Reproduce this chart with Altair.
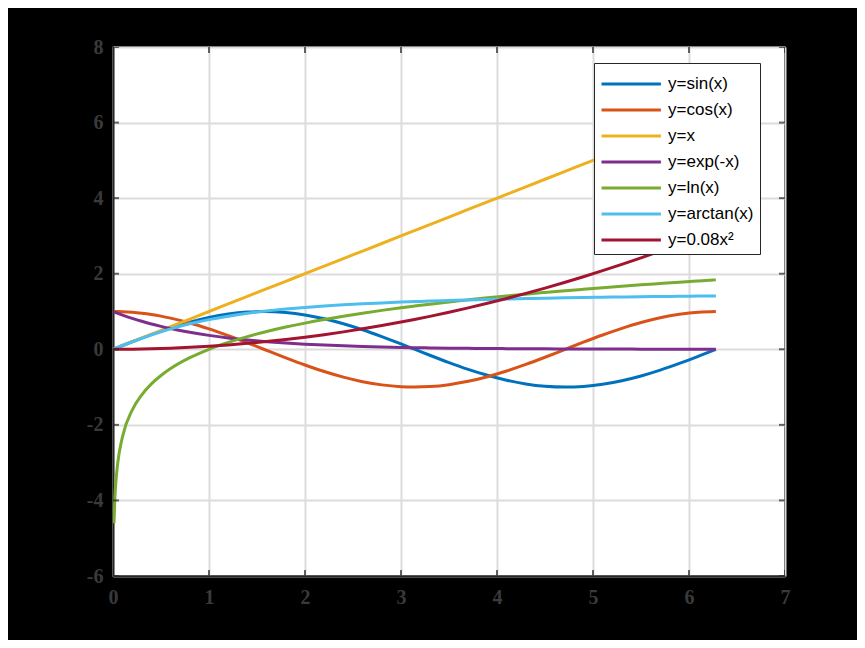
import altair as alt
import pandas as pd

x_vals = [0.01, 0.02, 0.03, 0.05, 0.1, 0.2, 0.3, 0.4, 0.5, 0.6, 0.8, 1.0, 1.2, 1.4, 1.57, 1.8, 2.0, 2.2,
          2.4, 2.6, 2.8, 3.0, 3.14, 3.3, 3.5, 3.7, 3.9, 4.1, 4.3, 4.5, 4.71, 4.9, 5.1, 5.3, 5.5, 5.7,
          5.9, 6.1, 6.28]

sin_vals = [0.010, 0.020, 0.030, 0.050, 0.100, 0.199, 0.296, 0.389, 0.479, 0.565, 0.717, 0.841, 0.932,
            0.985, 1.000, 0.974, 0.909, 0.808, 0.675, 0.516, 0.335, 0.141, 0.002, -0.158, -0.351,
            -0.530, -0.688, -0.818, -0.916, -0.978, -1.000, -0.982, -0.926, -0.832, -0.706, -0.551,
            -0.374, -0.182, -0.003]

cos_vals = [1.000, 1.000, 1.000, 0.999, 0.995, 0.980, 0.955, 0.921, 0.878, 0.825, 0.697, 0.540, 0.362,
            0.170, 0.001, -0.227, -0.416, -0.589, -0.737, -0.857, -0.942, -0.990, -1.000, -0.987,
            -0.936, -0.848, -0.726, -0.575, -0.401, -0.211, -0.002, 0.187, 0.378, 0.554, 0.709, 0.835,
            0.927, 0.983, 1.000]

lin_vals = [0.01, 0.02, 0.03, 0.05, 0.1, 0.2, 0.3, 0.4, 0.5, 0.6, 0.8, 1.0, 1.2, 1.4, 1.57, 1.8, 2.0, 2.2,
            2.4, 2.6, 2.8, 3.0, 3.14, 3.3, 3.5, 3.7, 3.9, 4.1, 4.3, 4.5, 4.71, 4.9, 5.1, 5.3, 5.5, 5.7,
            5.9, 6.1, 6.28]

exp_vals = [0.990, 0.980, 0.970, 0.951, 0.905, 0.819, 0.741, 0.670, 0.607, 0.549, 0.449, 0.368, 0.301,
            0.247, 0.208, 0.165, 0.135, 0.111, 0.091, 0.074, 0.061, 0.050, 0.043, 0.037, 0.030, 0.025,
            0.020, 0.017, 0.014, 0.011, 0.009, 0.007, 0.006, 0.005, 0.004, 0.003, 0.003, 0.002, 0.002]

ln_vals = [-4.605, -3.912, -3.507, -2.996, -2.303, -1.609, -1.204, -0.916, -0.693, -0.511, -0.223, 0.000,
           0.182, 0.336, 0.451, 0.588, 0.693, 0.788, 0.875, 0.956, 1.030, 1.099, 1.144, 1.194, 1.253,
           1.308, 1.361, 1.411, 1.459, 1.504, 1.550, 1.589, 1.629, 1.668, 1.705, 1.740, 1.775, 1.808,
           1.837]

atan_vals = [0.010, 0.020, 0.030, 0.050, 0.100, 0.197, 0.291, 0.381, 0.464, 0.540, 0.675, 0.785, 0.876,
             0.951, 1.004, 1.064, 1.107, 1.144, 1.176, 1.204, 1.228, 1.249, 1.262, 1.277, 1.292, 1.307,
             1.320, 1.332, 1.342, 1.352, 1.362, 1.370, 1.377, 1.384, 1.391, 1.397, 1.403, 1.408, 1.413]

sq_vals = [0.000, 0.000, 0.000, 0.000, 0.001, 0.003, 0.007, 0.013, 0.020, 0.029, 0.051, 0.080, 0.115,
           0.157, 0.197, 0.259, 0.320, 0.387, 0.461, 0.541, 0.627, 0.720, 0.789, 0.871, 0.980, 1.095,
           1.217, 1.345, 1.479, 1.620, 1.775, 1.921, 2.081, 2.247, 2.420, 2.599, 2.785, 2.977, 3.155]

names = ["y=sin(x)", "y=cos(x)", "y=x", "y=exp(-x)", "y=ln(x)", "y=arctan(x)", "y=0.08x²"]
colors = ["#0072BD", "#D95319", "#EDB120", "#7E2F8E", "#77AC30", "#4DBEEE", "#A2142F"]
series = [sin_vals, cos_vals, lin_vals, exp_vals, ln_vals, atan_vals, sq_vals]

x_ticks = [0, 1, 2, 3, 4, 5, 6, 7]
y_ticks = [-6, -4, -2, 0, 2, 4, 6, 8]

rows = []
for name, vals in zip(names, series):
    for xv, yv in zip(x_vals, vals):
        rows.append({"x": xv, "y": yv, "series": name})
df = pd.DataFrame(rows)

xt = pd.DataFrame({"x": x_ticks})
yt = pd.DataFrame({"y": y_ticks})

xscale = alt.Scale(domain=[0, 7], nice=False, zero=False)
yscale = alt.Scale(domain=[-6, 8], nice=False, zero=False)

lbl = "toString(datum.value)"

lines = alt.Chart(df).mark_line(strokeWidth=3, interpolate="monotone", clip=True).encode(
    x=alt.X("x:Q", scale=xscale,
            axis=alt.Axis(values=x_ticks, title=None, labelExpr=lbl, labelFlush=False, labelPadding=11)),
    y=alt.Y("y:Q", scale=yscale,
            axis=alt.Axis(values=y_ticks, title=None, labelExpr=lbl, labelFlush=False, labelPadding=10)),
    color=alt.Color(
        "series:N",
        sort=names,
        scale=alt.Scale(domain=names, range=colors),
        legend=alt.Legend(
            title=None,
            orient="none",
            legendX=481,
            legendY=16,
            fillColor="white",
            strokeColor="#262626",
            padding=6,
            symbolType="M-1,0H3.4",
            symbolSize=729,
            symbolStrokeWidth=3,
            labelOffset=38,
            labelFontSize=17,
            labelFont="Liberation Sans",
            labelColor="black",
            rowPadding=3,
        ),
    ),
)

tick_style = dict(thickness=2, size=12, color="#262626", clip=True)
bottom = alt.Chart(xt).mark_tick(orient="vertical", **tick_style).encode(
    x=alt.X("x:Q", title=None), y=alt.datum(-6))
top = alt.Chart(xt).mark_tick(orient="vertical", **tick_style).encode(
    x=alt.X("x:Q", title=None), y=alt.datum(8))
left = alt.Chart(yt).mark_tick(orient="horizontal", **tick_style).encode(
    y=alt.Y("y:Q", title=None), x=alt.datum(0))
right = alt.Chart(yt).mark_tick(orient="horizontal", **tick_style).encode(
    y=alt.Y("y:Q", title=None), x=alt.datum(7))

chart = alt.layer(lines, bottom, top, left, right).properties(
    width=672,
    height=529,
    padding={"left": 105, "top": 39, "right": 72, "bottom": 64},
    autosize=alt.AutoSizeParams(type="none"),
).configure(
    background="black"
).configure_view(
    fill="white", stroke="#262626", strokeWidth=2
).configure_axis(
    labelFont="Liberation Serif",
    labelFontWeight="bold",
    labelFontSize=20,
    labelColor="#3a3a3a",
    ticks=False,
    domain=True,
    domainColor="#262626",
    domainWidth=2,
    grid=True,
    gridColor="#dcdcdc",
    gridWidth=2,
)

chart.save("out.html", embed_options={"renderer": "svg", "actions": False})
